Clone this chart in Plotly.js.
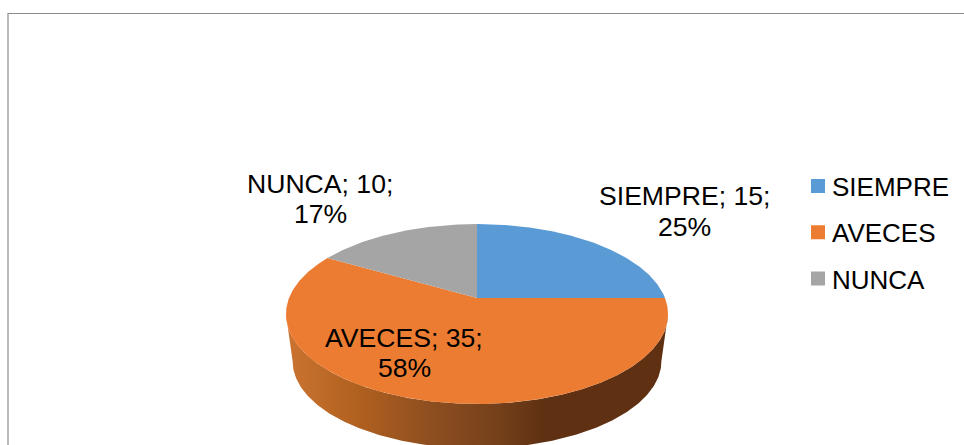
<!DOCTYPE html>
<html>
<head>
<meta charset="utf-8">
<script src="https://cdn.plot.ly/plotly-3.0.1.min.js"></script>
<style>html,body{margin:0;padding:0;background:#fff}#chart{width:964px;height:445px}</style>
</head>
<body>
<div id="chart"></div>
<script>
// --- data ---
var categories = ['SIEMPRE', 'AVECES', 'NUNCA'];
var values = [15, 35, 10];
var colors = ['#5B9BD5', '#EC7C31', '#A5A5A5'];
var wallGradient = [[0, '#CC7431'], [0.19, '#B0601F'], [0.37, '#8F4F20'], [0.56, '#74401A'], [0.67, '#5F3012'], [1, '#5F3012']];

// --- label placement (pixel space of the figure) ---
var labelCentres = [[684.5, 196, 227], [404, 338, 368], [320, 184, 214]];

// --- perspective view of the pie disc ---
var W = 964, H = 445;
var view = {cx: 477, apexY: 298, A: 188, B: 87.1, k: 0.178, wallDrop: 48, wallScale: 0.965};

function project(theta, scale, drop) {
  var u = Math.sin(theta), v = -Math.cos(theta);
  var d = 1 - view.k * v;
  return [view.cx + scale * view.A * u / d, view.apexY + drop + scale * view.B * v / d];
}
function arc(a0, a1, scale, drop) {
  var n = Math.max(2, Math.ceil(Math.abs(a1 - a0) / (Math.PI / 360)));
  var pts = [];
  for (var i = 0; i <= n; i++) pts.push(project(a0 + (a1 - a0) * i / n, scale, drop));
  return pts;
}
function xs(p) { return p.map(function (q) { return q[0]; }); }
function ys(p) { return p.map(function (q) { return q[1]; }); }

var total = values.reduce(function (a, b) { return a + b; }, 0);
var bounds = [0];
values.forEach(function (v, i) { bounds.push(bounds[i] + v / total * 2 * Math.PI); });

var traces = [];

// side wall: visible front part of the rim, clipped to the slice that owns it
var rimStart = Math.PI - Math.acos(view.k);
var rimEnd = Math.PI + Math.acos(view.k);
values.forEach(function (v, i) {
  var a0 = Math.max(bounds[i], rimStart), a1 = Math.min(bounds[i + 1], rimEnd);
  if (a1 <= a0) return;
  var pts = arc(a0, a1, 1, 0).concat(arc(a1, a0, view.wallScale, view.wallDrop));
  pts.push(pts[0]);
  traces.push({
    type: 'scatter', mode: 'lines', x: xs(pts), y: ys(pts),
    fill: 'toself', line: {width: 0, color: colors[i]},
    fillgradient: {type: 'horizontal', colorscale: wallGradient},
    hoverinfo: 'skip', showlegend: false
  });
});

// top face slices
values.forEach(function (v, i) {
  var pts = [[view.cx, view.apexY]].concat(arc(bounds[i], bounds[i + 1], 1, 0));
  pts.push(pts[0]);
  traces.push({
    type: 'scatter', mode: 'lines', x: xs(pts), y: ys(pts),
    fill: 'toself', fillcolor: colors[i], line: {width: 0, color: colors[i]},
    name: categories[i], hoverinfo: 'skip', showlegend: false
  });
});

// legend entries
categories.forEach(function (c, i) {
  traces.push({
    type: 'scatter', mode: 'markers', x: [null], y: [null], name: c,
    legendgroup: c, showlegend: true,
    marker: {symbol: 'square', size: 14, color: colors[i]}
  });
});

// data labels
var legendFont = {family: 'Liberation Sans, Arial, sans-serif', size: 26, color: '#000'};
var labelFont = {family: 'Liberation Sans, Arial, sans-serif', size: 26.6, color: '#000'};
var annotations = [];
categories.forEach(function (c, i) {
  var pct = Math.round(values[i] / total * 100) + '%';
  [c + '; ' + values[i] + ';', pct].forEach(function (t, j) {
    annotations.push({
      xref: 'x', yref: 'y', x: labelCentres[i][0], y: labelCentres[i][1 + j],
      text: t, showarrow: false, font: labelFont, xanchor: 'center', yanchor: 'middle'
    });
  });
});

var frame = {color: '#8C8C8C', width: 1};
var layout = {
  width: W, height: H, margin: {l: 0, r: 0, t: 0, b: 0},
  paper_bgcolor: '#fff', plot_bgcolor: '#fff',
  xaxis: {range: [0, W], visible: false, fixedrange: true},
  yaxis: {range: [H, 0], visible: false, fixedrange: true},
  showlegend: true,
  legend: {
    x: 792 / W, y: 1 - 162.5 / H, xanchor: 'left', yanchor: 'top',
    font: legendFont, tracegroupgap: 9.5, bgcolor: 'rgba(0,0,0,0)', itemclick: false, itemdoubleclick: false
  },
  annotations: annotations,
  shapes: [
    {type: 'line', xref: 'x', yref: 'y', x0: 7.5, x1: W, y0: 13.5, y1: 13.5, line: frame},
    {type: 'line', xref: 'x', yref: 'y', x0: 8, x1: 8, y0: 13.5, y1: H, line: {color: '#A6A6A6', width: 1.5}}
  ]
};

Plotly.newPlot('chart', traces, layout, {displayModeBar: false, staticPlot: true}).then(function () {
  document.querySelectorAll('.legend .legendsymbols').forEach(function (g) {
    g.setAttribute('transform', 'translate(6,0)');
  });
});
</script>
</body>
</html>
